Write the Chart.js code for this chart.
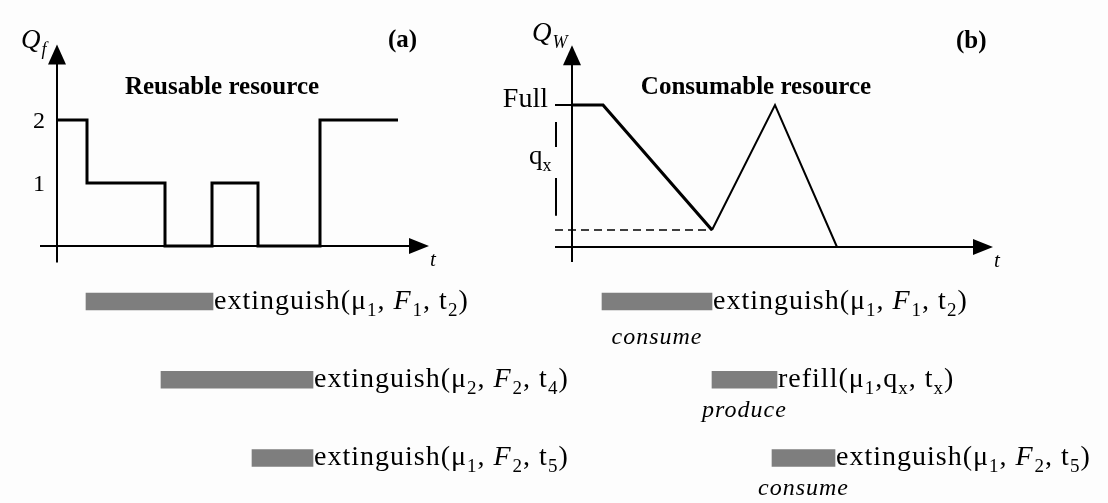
<!DOCTYPE html>
<html>
<head>
<meta charset="utf-8">
<script src="https://cdn.jsdelivr.net/npm/chart.js@4.4.0/dist/chart.umd.min.js"></script>
<style>
  html, body { margin: 0; padding: 0; background: #fdfdfd; }
  #wrap { width: 1108px; height: 503px; }
</style>
</head>
<body>
<div id="wrap"><canvas id="chart" width="1108" height="503"></canvas></div>
<script>
// (a) reusable resource: free units Q_f over time t
const reuseTimes = [0, 3, 10.8, 15.5, 20.1, 26.3, 34.1];
const reuseLevels = [2, 1, 0, 1, 0, 2, 2];
const reuseTicks = [1, 2];
const reuseTaskStart = [2.9, 10.4, 19.5];
const reuseTaskEnd = [15.6, 25.6, 25.6];
const reuseTaskLabels = ['extinguish(μ_1, *F*_1, t_2)', 'extinguish(μ_2, *F*_2, t_4)', 'extinguish(μ_1, *F*_2, t_5)'];

// (b) consumable resource: water level Q_W over time t
const consumeTimes = [0, 3.1, 14];
const consumeLevels = [100, 100, 12];
const refillTimes = [14, 20.3, 26.5];
const refillLevels = [12, 100, 0];
const fullLevel = 100;
const lowLevel = 12;
const waterTaskStart = [3, 14, 20];
const waterTaskEnd = [14, 20.5, 26.3];
const waterTaskLabels = ['extinguish(μ_1, *F*_1, t_2)', 'refill(μ_1,q_x, t_x)', 'extinguish(μ_1, *F*_2, t_5)'];
const waterTaskNotes = ['consume', 'produce', 'consume'];

const W = 1108, H = 503;
const SERIF = '"Liberation Serif", "Times New Roman", serif';

// scale ranges so that each panel's origin lands where the axes are drawn
function xRange(originPx, pxPerUnit) {
  return { min: -originPx / pxPerUnit, max: (W - originPx) / pxPerUnit };
}
function yRange(zeroPx, pxPerUnit) {
  return { min: -(H - zeroPx) / pxPerUnit, max: zeroPx / pxPerUnit };
}
const rowTop = 301.5, rowGap = 78.25;

const pts = (xs, ys) => xs.map((x, i) => ({ x: x, y: ys[i] }));
const rows = (starts, ends) => starts.map((s, i) => ({ x: [s, ends[i]], y: i }));

// text with _x subscripts and *italic* parts, drawn char by char
function drawRich(ctx, str, x, y, size, spacing) {
  let italic = false, sub = false;
  for (let i = 0; i < str.length; i++) {
    const ch = str[i];
    if (ch === '*') { italic = !italic; continue; }
    if (ch === '_') { sub = true; continue; }
    const fs = sub ? Math.round(size * 0.68) : size;
    ctx.font = (italic ? 'italic ' : '') + fs + 'px ' + SERIF;
    ctx.fillText(ch, x, sub ? y + size * 0.25 : y);
    x += ctx.measureText(ch).width + (italic ? 1 : 0) + (spacing || 0);
    sub = false;
  }
  return x;
}

function arrowUp(ctx, x, tipY) {
  ctx.beginPath();
  ctx.moveTo(x, tipY);
  ctx.lineTo(x - 9, tipY + 20);
  ctx.lineTo(x + 9, tipY + 20);
  ctx.closePath();
  ctx.fill();
}
function arrowRight(ctx, tipX, y) {
  ctx.beginPath();
  ctx.moveTo(tipX, y);
  ctx.lineTo(tipX - 20, y - 8);
  ctx.lineTo(tipX - 20, y + 8);
  ctx.closePath();
  ctx.fill();
}

function drawAxes(ctx, xs, ys, ax) {
  const ox = xs.getPixelForValue(0), oy = ys.getPixelForValue(0);
  const tipX = xs.getPixelForValue(ax.xTip), tipY = ys.getPixelForValue(ax.yTip);
  ctx.lineWidth = 2;
  ctx.beginPath();
  ctx.moveTo(xs.getPixelForValue(ax.xFrom), oy);
  ctx.lineTo(tipX - 12, oy);
  ctx.moveTo(ox, ys.getPixelForValue(ax.yFrom));
  ctx.lineTo(ox, tipY + 12);
  ctx.stroke();
  arrowRight(ctx, tipX, oy);
  arrowUp(ctx, ox, tipY);
  ctx.font = 'italic 21px ' + SERIF;
  ctx.textAlign = 'left';
  ctx.fillText('t', tipX + 1, oy + 20);
}

const overlay = {
  id: 'overlay',
  afterDatasetsDraw(chart) {
    const ctx = chart.ctx, s = chart.scales;
    ctx.save();
    ctx.fillStyle = '#000';
    ctx.strokeStyle = '#000';
    ctx.textBaseline = 'alphabetic';

    // panel (a)
    drawAxes(ctx, s.xa, s.ya, { xFrom: -1.7, xTip: 37.2, yFrom: -0.26, yTip: 3.2 });
    ctx.font = '24px ' + SERIF;
    ctx.textAlign = 'right';
    reuseTicks.forEach(v => ctx.fillText(String(v), 45, s.ya.getPixelForValue(v) + 8));
    ctx.textAlign = 'left';
    drawRich(ctx, '*Q_f*', 21, 48, 27);
    ctx.textAlign = 'center';
    ctx.font = 'bold 25px ' + SERIF;
    ctx.fillText('Reusable resource', 222, 94);
    ctx.textAlign = 'left';
    ctx.fillText('(a)', 388, 47);

    // panel (b)
    drawAxes(ctx, s.xb, s.yb, { xFrom: -1.7, xTip: 42.1, yFrom: -10.5, yTip: 142 });
    const bx = s.xb.getPixelForValue(0);
    const fullY = s.yb.getPixelForValue(fullLevel);
    ctx.lineWidth = 2;
    ctx.beginPath();
    ctx.moveTo(bx - 17, fullY);
    ctx.lineTo(bx, fullY);
    ctx.stroke();
    ctx.font = '28px ' + SERIF;
    ctx.textAlign = 'right';
    ctx.fillText('Full', bx - 24, fullY + 2);
    // q_x marker between the low level and full
    const qx = bx - 16;
    const qTop = s.yb.getPixelForValue(fullLevel - 12);
    const qBot = s.yb.getPixelForValue(lowLevel + 10);
    const qMid = (qTop + qBot) / 2 - 6;
    ctx.beginPath();
    ctx.moveTo(qx, qTop); ctx.lineTo(qx, qMid - 16);
    ctx.moveTo(qx, qMid + 15); ctx.lineTo(qx, qBot);
    ctx.stroke();
    ctx.textAlign = 'left';
    drawRich(ctx, 'q_x', bx - 43, qMid + 1, 27);
    drawRich(ctx, '*Q_W*', 532, 41, 27);
    ctx.textAlign = 'center';
    ctx.font = 'bold 25px ' + SERIF;
    ctx.fillText('Consumable resource', 756, 94);
    ctx.textAlign = 'left';
    ctx.fillText('(b)', 956, 48);

    // task labels next to the bars
    ctx.textAlign = 'left';
    [[3, reuseTaskLabels, null], [4, waterTaskLabels, waterTaskNotes]].forEach(([di, labels, notes]) => {
      chart.getDatasetMeta(di).data.forEach((bar, i) => {
        drawRich(ctx, labels[i], bar.x + 1, bar.y + 7, 28, 1);
        if (notes) {
          ctx.font = 'italic 24px ' + SERIF;
          ctx.textAlign = 'center';
          ctx.letterSpacing = '1px';
          ctx.fillText(notes[i], (bar.x + bar.base) / 2, bar.y + (i === 0 ? 42 : 37));
          ctx.letterSpacing = '0px';
          ctx.textAlign = 'left';
        }
      });
    });
    ctx.restore();
  }
};

const lineStyle = { type: 'line', pointRadius: 0, fill: false, tension: 0, borderColor: '#000' };
const barStyle = {
  type: 'bar', indexAxis: 'y', yAxisID: 'yg', grouped: false,
  backgroundColor: '#7e7e7e', borderWidth: 0, barThickness: 17
};

new Chart(document.getElementById('chart'), {
  data: {
    datasets: [
      { ...lineStyle, label: 'Q_f', data: pts(reuseTimes, reuseLevels), stepped: 'before',
        borderWidth: 3, xAxisID: 'xa', yAxisID: 'ya' },
      { ...lineStyle, label: 'consume', data: pts(consumeTimes, consumeLevels),
        borderWidth: 3.2, xAxisID: 'xb', yAxisID: 'yb' },
      { ...lineStyle, label: 'refill', data: pts(refillTimes, refillLevels),
        borderWidth: 2, xAxisID: 'xb', yAxisID: 'yb' },
      { ...barStyle, label: 'tasks (a)', data: rows(reuseTaskStart, reuseTaskEnd), xAxisID: 'xa' },
      { ...barStyle, label: 'tasks (b)', data: rows(waterTaskStart, waterTaskEnd), xAxisID: 'xb' },
      { ...lineStyle, label: 'low level', data: [{ x: -1.7, y: lowLevel }, { x: consumeTimes[2], y: lowLevel }],
        borderWidth: 1.6, borderDash: [8, 5], xAxisID: 'xb', yAxisID: 'yb' }
    ]
  },
  options: {
    responsive: false,
    animation: false,
    devicePixelRatio: 1,
    layout: { padding: 0 },
    plugins: { legend: { display: false }, tooltip: { enabled: false } },
    scales: {
      xa: { type: 'linear', display: false, ...xRange(57, 10) },
      xb: { type: 'linear', display: false, ...xRange(572, 10) },
      ya: { type: 'linear', display: false, ...yRange(246, 63) },
      yb: { type: 'linear', display: false, ...yRange(247, 1.42) },
      yg: { type: 'linear', display: false, reverse: true, offset: false,
            min: -rowTop / rowGap, max: (H - rowTop) / rowGap }
    }
  },
  plugins: [overlay]
});
</script>
</body>
</html>
